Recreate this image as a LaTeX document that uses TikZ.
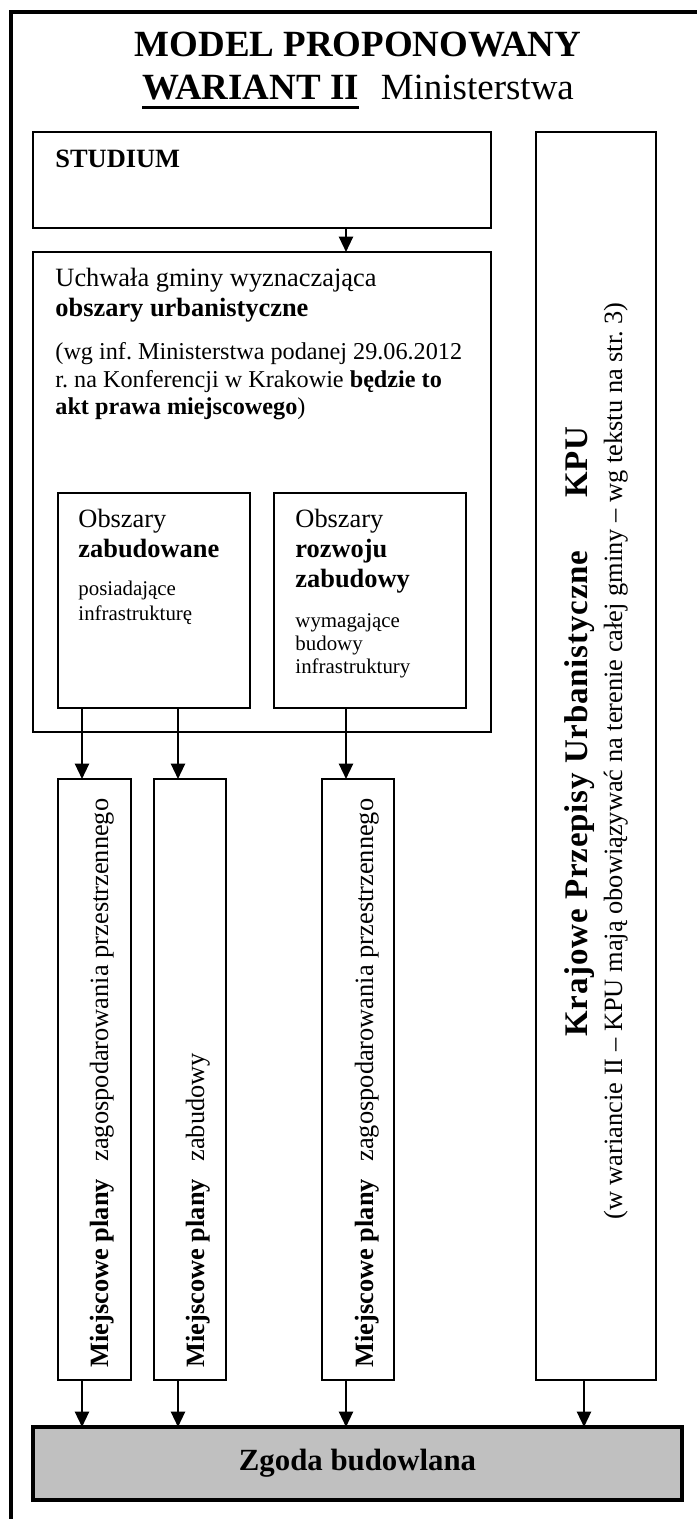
\documentclass[tikz,border=0pt]{standalone}
\usepackage{fontspec}
\setmainfont{Liberation Serif}
\usetikzlibrary{arrows.meta}
\definecolor{szary}{HTML}{C0C0C0}
\newcommand{\podkresl}[1]{\setbox0\hbox{#1}\rlap{\rule[-4.3pt]{\wd0}{1.5pt}}\box0}
\frenchspacing

\begin{document}
\begin{tikzpicture}[x=0.4545pt, y=-0.4545pt,
  box/.style={draw,line width=0.9pt,inner sep=0pt,outer sep=0pt},
  wh/.style 2 args={minimum width=#1*0.4545pt,minimum height=#2*0.4545pt},
  txt/.style={inner sep=0pt,anchor=base west,font=\fontsize{12}{14}\selectfont},
  uwaga/.style={txt,font=\fontsize{11}{13}\selectfont},
  drobny/.style={txt,font=\fontsize{9.5}{11}\selectfont},
  arr/.style={line width=1pt,-{Triangle[length=7pt,width=6.4pt]}}]
\useasboundingbox (0,0) rectangle (697,1519);
% ramka
\draw[line width=1.5pt] (11,1540) -- (11,12) -- (720,12);
% tytul
\node[inner sep=0pt,anchor=base,font=\fontsize{16.8}{20}\selectfont\bfseries] (tytul1) at (358,57) {MODEL PROPONOWANY};
\node[inner sep=0pt,anchor=base,font=\fontsize{16.8}{20}\selectfont] (tytul2) at (358,100) {\podkresl{\textbf{WARIANT II}}\hspace{10pt}Ministerstwa};
% bloki
\node[box,wh={458}{96}] (studium) at (262,180) {};
\node[box,wh={120}{1248}] (kpu) at (596,756) {};
\node[box,wh={458}{480}] (uchwala) at (262,492) {};
\node[box,wh={192}{215}] (obszA) at (154,600.5) {};
\node[box,wh={192}{215}] (obszB) at (370,600.5) {};
\node[box,wh={73}{601}] (planA) at (94.5,1079.5) {};
\node[box,wh={72}{601}] (planB) at (190,1079.5) {};
\node[box,wh={72}{601}] (planC) at (358,1079.5) {};
\node[box,wh={649}{73},line width=1.5pt,fill=szary,font=\fontsize{14}{16}\selectfont\bfseries] (zgoda) at (357.5,1463.5) {Zgoda budowlana};
% teksty
\node[txt,font=\fontsize{12}{14}\selectfont\bfseries] (studiumtxt) at (55,168) {STUDIUM};
\node[txt] (u1) at (55,287) {Uchwała gminy wyznaczająca};
\node[txt] (u2) at (55,317) {\textbf{obszary urbanistyczne}};
\node[uwaga] (u3) at (55,360) {(wg inf. Ministerstwa podanej 29.06.2012};
\node[uwaga] (u4) at (55,388) {r. na Konferencji w Krakowie \textbf{będzie to}};
\node[uwaga] (u5) at (55,415) {\textbf{akt prawa miejscowego})};
\node[txt] (a1) at (78,527) {Obszary};
\node[txt] (a2) at (78,557) {\textbf{zabudowane}};
\node[drobny] (a3) at (78,595) {posiadające};
\node[drobny] (a4) at (78,620) {infrastrukturę};
\node[txt] (b1) at (295,527) {Obszary};
\node[txt] (b2) at (295,557) {\textbf{rozwoju}};
\node[txt] (b3) at (295,587) {\textbf{zabudowy}};
\node[drobny] (b4) at (295,627) {wymagające};
\node[drobny] (b5) at (295,650) {budowy};
\node[drobny] (b6) at (295,673) {infrastruktury};
\node[txt,rotate=90] (planAtxt) at (108,1368) {\textbf{Miejscowe plany}\hspace{8pt}zagospodarowania przestrzennego};
\node[txt,rotate=90] (planBtxt) at (204,1368) {\textbf{Miejscowe plany}\hspace{8pt}zabudowy};
\node[txt,rotate=90] (planCtxt) at (373,1368) {\textbf{Miejscowe plany}\hspace{8pt}zagospodarowania przestrzennego};
\node[txt,rotate=90,font=\fontsize{15}{17}\selectfont\bfseries\addfontfeature{LetterSpace=2.5}] (kputxt) at (587,1037) {Krajowe Przepisy Urbanistyczne\hspace{24pt}KPU};
\node[txt,rotate=90] (kpuopis) at (622,1220) {(w wariancie II – KPU mają obowiązywać na terenie całej gminy – wg tekstu na str. 3)};
% strzalki
\coordinate (xA) at (82,0);
\coordinate (xB) at (178,0);
\coordinate (xC) at (346,0);
\coordinate (xK) at (584,0);
\draw[arr] (studium.south -| xC) -- (uchwala.north -| xC);
\draw[arr] (obszA.south -| xA) -- (planA.north -| xA);
\draw[arr] (obszA.south -| xB) -- (planB.north -| xB);
\draw[arr] (obszB.south -| xC) -- (planC.north -| xC);
\foreach \p/\c in {planA/xA,planB/xB,planC/xC,kpu/xK}
  \draw[arr] (\p.south -| \c) -- (zgoda.north -| \c);
\end{tikzpicture}
\end{document}
